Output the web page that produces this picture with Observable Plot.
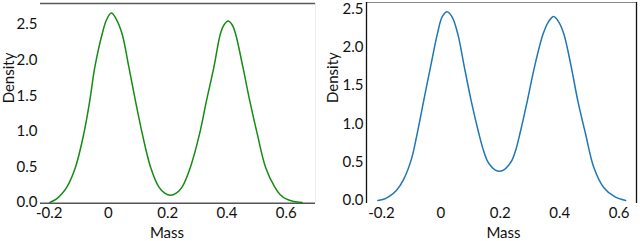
<!DOCTYPE html>
<html><head><meta charset="utf-8">
<script src="https://cdn.jsdelivr.net/npm/d3@7"></script>
<script src="https://cdn.jsdelivr.net/npm/@observablehq/plot@0.6"></script>
<style>
html,body{margin:0;padding:0;background:#fff;}
#chart{position:relative;width:640px;height:241px;overflow:hidden;background:#fff;}
#chart svg{position:absolute;top:0;}
</style></head><body><div id="chart"></div>
<script>
const xTicks = [-0.2, 0, 0.2, 0.4, 0.6];
const yTicks = [0, 0.5, 1.0, 1.5, 2.0, 2.5];
const xLabel = "Mass";
const yLabel = "Density";

// Left panel (green)
const leftMass    = [-0.198, -0.175, -0.158, -0.140, -0.111, -0.083, -0.063, -0.046, -0.021, -0.006, 0.010, 0.027, 0.046, 0.069, 0.091, 0.114, 0.142, 0.170, 0.190, 0.209, 0.229, 0.249, 0.277, 0.308, 0.331, 0.356, 0.378, 0.391, 0.404, 0.417, 0.429, 0.454, 0.477, 0.502, 0.530, 0.561, 0.580, 0.600, 0.625, 0.654];
const leftDensity = [0.00, 0.05, 0.12, 0.22, 0.50, 0.97, 1.43, 1.90, 2.37, 2.57, 2.66, 2.57, 2.37, 1.90, 1.43, 0.97, 0.50, 0.22, 0.13, 0.10, 0.13, 0.22, 0.50, 0.97, 1.43, 1.90, 2.37, 2.50, 2.55, 2.50, 2.37, 1.90, 1.43, 0.97, 0.50, 0.22, 0.11, 0.05, 0.015, 0.00];

// Right panel (blue)
const rightMass    = [-0.212, -0.190, -0.175, -0.150, -0.125, -0.100, -0.080, -0.058, -0.035, -0.012, 0.005, 0.021, 0.038, 0.057, 0.079, 0.102, 0.128, 0.142, 0.156, 0.168, 0.182, 0.197, 0.212, 0.226, 0.240, 0.253, 0.266, 0.291, 0.315, 0.344, 0.362, 0.380, 0.398, 0.414, 0.439, 0.461, 0.487, 0.515, 0.548, 0.585, 0.622];
const rightDensity = [0.00, 0.02, 0.05, 0.13, 0.28, 0.53, 0.87, 1.30, 1.74, 2.17, 2.40, 2.46, 2.39, 2.17, 1.74, 1.30, 0.87, 0.67, 0.52, 0.45, 0.40, 0.38, 0.40, 0.45, 0.53, 0.67, 0.87, 1.30, 1.74, 2.17, 2.33, 2.40, 2.32, 2.17, 1.74, 1.30, 0.87, 0.43, 0.17, 0.05, 0.00];

const fmtX = d => d === 0 ? "0" : (d < 0 ? "-" : "") + Math.abs(d).toFixed(1);
const fmtY = d => d.toFixed(1);
const FS = 15;

function panel(o) {
  const data = o.mass.map((m, i) => ({mass: m, density: o.density[i]}));
  const [x0, x1] = o.xDomain, [y0, y1] = o.yDomain;
  const marks = [];
  for (const s of o.spines) {
    if (s.side === "top") marks.push(Plot.ruleY([y1], {stroke: s.color, strokeWidth: s.width}));
    if (s.side === "bottom") marks.push(Plot.ruleY([y0], {stroke: s.color, strokeWidth: s.width}));
    if (s.side === "left") marks.push(Plot.ruleX([x0], {stroke: s.color, strokeWidth: s.width}));
    if (s.side === "right") marks.push(Plot.ruleX([x1], {stroke: s.color, strokeWidth: s.width}));
  }
  marks.push(
    Plot.line(data, {x: "mass", y: "density", stroke: o.color, strokeWidth: 1.5, curve: "catmull-rom"}),
    Plot.axisX(xTicks, {tickSize: 0, tickPadding: 4, tickFormat: fmtX, label: null, fill: "#111", fontSize: FS}),
    Plot.axisY(yTicks, {tickSize: 0, tickPadding: 3, tickFormat: fmtY, label: null, fill: "#111", fontSize: FS}),
    Plot.text([xLabel], {frameAnchor: "bottom", dy: 30, dx: o.xLabelDx, lineAnchor: "middle", fontSize: FS, fill: "#111"}),
    Plot.text([yLabel], {frameAnchor: "left", rotate: -90, dx: o.yLabelDx, lineAnchor: "middle", fontSize: FS, fill: "#111"})
  );
  return Plot.plot({
    width: 320, height: 241,
    marginLeft: o.margins[0], marginRight: o.margins[1], marginTop: o.margins[2], marginBottom: o.margins[3],
    style: {fontFamily: "Lato, 'Open Sans', sans-serif", fontSize: FS + "px", background: "transparent", color: "#111"},
    x: {domain: o.xDomain},
    y: {domain: o.yDomain},
    marks
  });
}

const left = panel({
  mass: leftMass, density: leftDensity, color: "#148c14",
  xDomain: [-0.2294, 0.699], yDomain: [-0.01, 2.795],
  margins: [40, 5, 3, 38.3],
  xLabelDx: -11, yLabelDx: -31,
  spines: [
    {side: "top", color: "#5a5a5a", width: 1.3},
    {side: "bottom", color: "#555", width: 1.5},
    {side: "right", color: "#ececec", width: 1}
  ]
});
left.style.left = "0px";

const right = panel({
  mass: rightMass, density: rightDensity, color: "#1f77b4",
  xDomain: [-0.2505, 0.6586], yDomain: [-0.039, 2.582],
  margins: [46, 4, 2, 38],
  xLabelDx: 2, yLabelDx: -33,
  spines: [
    {side: "top", color: "#888", width: 1},
    {side: "left", color: "#111", width: 1.3},
    {side: "right", color: "#111", width: 1.3}
  ]
});
right.style.left = "320px";

const chart = document.getElementById("chart");
chart.appendChild(left);
chart.appendChild(right);
</script>
</body></html>
